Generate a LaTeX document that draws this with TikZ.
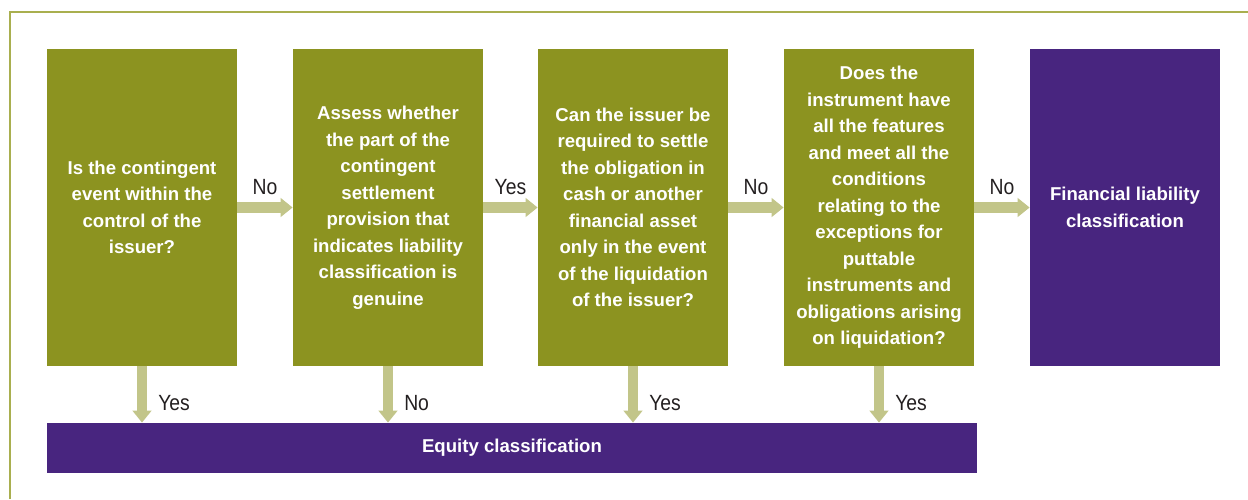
\documentclass[tikz,border=0pt]{standalone}
\usepackage{fontspec}
\setmainfont{Liberation Sans}
\newfontfamily\lblfont[FakeStretch=0.88]{Liberation Sans}
\usetikzlibrary{arrows.meta}
\definecolor{qolive}{HTML}{8C9320}
\definecolor{qpurple}{HTML}{48257F}
\definecolor{qarrow}{HTML}{C2C589}
\definecolor{qframe}{HTML}{A9AF4F}
\definecolor{qtext}{HTML}{231F20}

\begin{document}
\begin{tikzpicture}[x=0.5pt,y=-0.5pt,
    question/.style={fill=qolive, text=white, inner sep=0pt, align=center,
      minimum width=95pt, minimum height=158.5pt,
      font=\fontsize{9.3}{13.25}\selectfont\bfseries},
    outcome/.style={question, fill=qpurple},
    flow/.style={draw=qarrow, line width=5.25pt, -{Triangle[width=9.25pt,length=6pt]}},
    lbl/.style={text=qtext, inner sep=0pt, font=\lblfont\fontsize{11}{12}\selectfont}]
    \useasboundingbox (0,0) rectangle (1248,499);
    % frame
    \draw[qframe, line width=0.75pt] (10,499) -- (10,12) -- (1248,12);
    % questions
    \node[question] (q1) at (142,207.5) {Is the contingent\\event within the\\control of the\\issuer?};
    \node[question] (q2) at (388,207.5) {Assess whether\\the part of the\\contingent\\settlement\\provision that\\indicates liability\\classification is\\genuine};
    \node[question] (q3) at (633,207.5) {Can the issuer be\\required to settle\\the obligation in\\cash or another\\financial asset\\only in the event\\of the liquidation\\of the issuer?};
    \node[question] (q4) at (879,207.5) {Does the\\instrument have\\all the features\\and meet all the\\conditions\\relating to the\\exceptions for\\puttable\\instruments and\\obligations arising\\on liquidation?};
    % outcomes
    \node[outcome] (fin) at (1125,207.5) {Financial liability\\classification};
    \node[outcome, minimum width=465pt, minimum height=25pt] (equity) at (512,448) {Equity classification};
    % arrows to the right
    \draw[flow] (q1.east) -- node[lbl, yshift=10pt] {No} (q2.west);
    \draw[flow] (q2.east) -- node[lbl, yshift=10pt] {Yes} (q3.west);
    \draw[flow] (q3.east) -- node[lbl, yshift=10pt] {No} (q4.west);
    \draw[flow] (q4.east) -- node[lbl, yshift=10pt] {No} (fin.west);
    % arrows down
    \draw[flow] (q1.south) -- node[lbl, anchor=west, xshift=5.5pt, yshift=-4.5pt] {Yes} (q1.south |- equity.north);
    \draw[flow] (q2.south) -- node[lbl, anchor=west, xshift=5.5pt, yshift=-4.5pt] {No} (q2.south |- equity.north);
    \draw[flow] (q3.south) -- node[lbl, anchor=west, xshift=5.5pt, yshift=-4.5pt] {Yes} (q3.south |- equity.north);
    \draw[flow] (q4.south) -- node[lbl, anchor=west, xshift=5.5pt, yshift=-4.5pt] {Yes} (q4.south |- equity.north);
\end{tikzpicture}
\end{document}
